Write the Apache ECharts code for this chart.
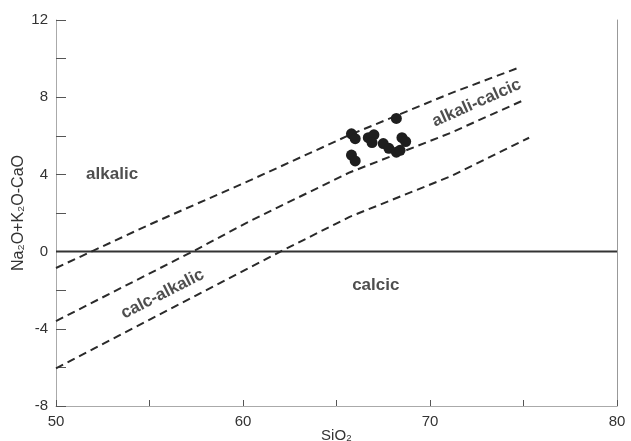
<!DOCTYPE html>
<html>
<head>
<meta charset="utf-8">
<script src="https://cdn.jsdelivr.net/npm/echarts@6/dist/echarts.min.js"></script>
<style>html,body{margin:0;padding:0;background:#fff}#c{width:631px;height:441px}</style>
</head>
<body>
<div id="c"></div>
<script>
// Sample points (SiO2, Na2O+K2O-CaO)
const sampleSiO2 = [65.8, 66.0, 65.8, 66.0, 66.7, 67.0, 66.9, 67.5, 67.8, 68.2, 68.4, 68.5, 68.7, 68.2];
const sampleMALI = [6.1, 5.85, 5.0, 4.7, 5.9, 6.05, 5.65, 5.6, 5.35, 5.15, 5.25, 5.9, 5.7, 6.9];

// Boundary lines
const alkalicLineX = [50, 55.0, 60.4, 65.6, 71.1, 74.8];
const alkalicLineY = [-0.85, 1.4, 3.7, 6.0, 8.2, 9.55];
const calcAlkalicLineX = [50, 57.3, 60.4, 65.7, 71.1, 74.9];
const calcAlkalicLineY = [-3.6, 0, 1.6, 4.1, 6.15, 7.8];
const calcicLineX = [50, 62.0, 65.7, 71.1, 75.3];
const calcicLineY = [-6.05, 0, 1.8, 3.9, 5.9];
const zeroLineX = [50, 80];
const zeroLineY = [0, 0];

// Region names
const regionNames = ['alkalic', 'calc-alkalic', 'alkali-calcic', 'calcic'];

// Axis
const xMin = 50, xMax = 80, xTickStep = 5, xLabelStep = 10;
const yMin = -8, yMax = 12, yTickStep = 2, yLabelStep = 4;

const zip = (a, b) => a.map((v, i) => [v, b[i]]);

const chart = echarts.init(document.getElementById('c'), null, {renderer: 'canvas'});
const dashStyle = {color: '#2a2a2a', width: 2, type: [8, 5]};
const regionPos = [[53.0, 4.0, 0], [55.7, -2.2, 27], [72.5, 7.7, 24], [67.1, -1.75, 0]];

chart.setOption({
  animation: false,
  backgroundColor: '#fff',
  grid: {left: 56, right: 14, top: 20, bottom: 35, containLabel: false, outerBoundsMode: 'none'},
  xAxis: {
    type: 'value', min: xMin, max: xMax, interval: xTickStep,
    name: 'SiO₂', nameLocation: 'middle', nameGap: 22, nameMoveOverlap: false,
    nameTextStyle: {fontFamily: 'Liberation Sans', fontSize: 15, color: '#333'},
    axisLine: {onZero: false, lineStyle: {color: '#aaa', width: 1}},
    axisTick: {inside: true, length: 6, lineStyle: {color: '#555'}},
    axisLabel: {
      fontFamily: 'Liberation Sans', fontSize: 15, color: '#333', margin: 8,
      formatter: v => (v % xLabelStep === 0 ? String(v) : '')
    },
    splitLine: {show: false}
  },
  yAxis: [{
    type: 'value', min: yMin, max: yMax, interval: yTickStep,
    name: 'Na₂O+K₂O-CaO', nameLocation: 'middle', nameGap: 29, nameRotate: 90, nameMoveOverlap: false,
    nameTextStyle: {fontFamily: 'Liberation Sans', fontSize: 16, color: '#333'},
    axisLine: {onZero: false, lineStyle: {color: '#aaa', width: 1}},
    axisTick: {inside: true, length: 10, lineStyle: {color: '#555'}},
    axisLabel: {
      fontFamily: 'Liberation Sans', fontSize: 15, color: '#333', margin: 8,
      formatter: v => (v % yLabelStep === 0 ? String(v) : '')
    },
    splitLine: {show: false}
  }, {
    type: 'value', min: yMin, max: yMax, position: 'right',
    axisLine: {show: true, onZero: false, lineStyle: {color: '#999', width: 1}},
    axisTick: {show: false}, axisLabel: {show: false}, splitLine: {show: false}
  }],
  series: [
    {type: 'line', data: zip(zeroLineX, zeroLineY), symbol: 'none', lineStyle: {color: '#333', width: 2}, z: 2},
    {type: 'line', data: zip(alkalicLineX, alkalicLineY), symbol: 'none', lineStyle: dashStyle, z: 2},
    {type: 'line', data: zip(calcAlkalicLineX, calcAlkalicLineY), symbol: 'none', lineStyle: dashStyle, z: 2},
    {type: 'line', data: zip(calcicLineX, calcicLineY), symbol: 'none', lineStyle: dashStyle, z: 2},
    {type: 'scatter', data: zip(sampleSiO2, sampleMALI), symbol: 'circle', symbolSize: 11,
      itemStyle: {color: '#1e1e1e', opacity: 1}, z: 3},
    {type: 'scatter', symbolSize: 0, silent: true, z: 4,
      data: regionNames.map((n, i) => ({name: n, value: [regionPos[i][0], regionPos[i][1]],
        label: {rotate: regionPos[i][2]}})),
      label: {show: true, position: 'inside', formatter: p => p.name,
        fontFamily: 'Liberation Sans', fontWeight: 'bold', fontSize: 17, color: '#222'}}
  ]
});
</script>
</body>
</html>
